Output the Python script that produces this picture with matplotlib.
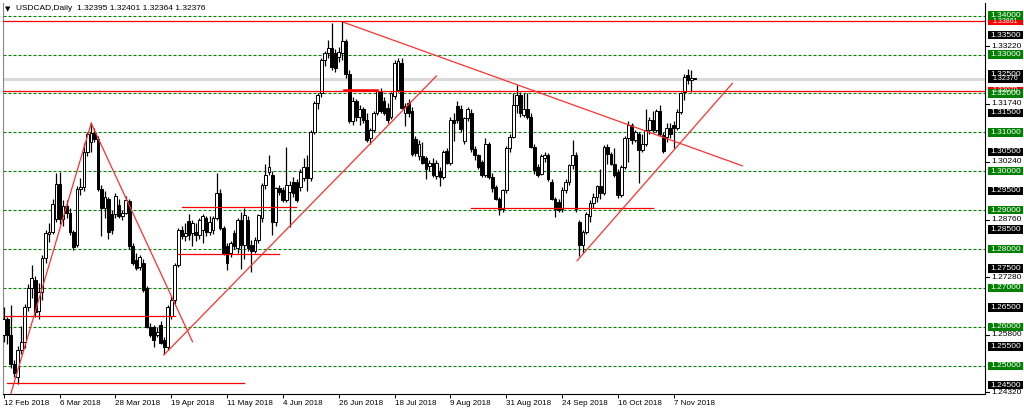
import matplotlib
matplotlib.use("Agg")
import matplotlib.pyplot as plt
from matplotlib.patches import Rectangle
from matplotlib.transforms import blended_transform_factory

# ---------------- data ----------------
header_text = "USDCAD,Daily  1.32395 1.32401 1.32364 1.32376"

opens = [
    1.2578, 1.2620, 1.2580, 1.2505, 1.2470, 1.2540, 1.2560, 1.2650, 1.2700, 1.2720,
    1.2640, 1.2690, 1.2777, 1.2838, 1.2845, 1.2877, 1.2967, 1.2877, 1.2911, 1.2894,
    1.2843, 1.2810, 1.2954, 1.2959, 1.3049, 1.3075, 1.3098, 1.3083, 1.2955, 1.2905,
    1.2930, 1.2890, 1.2890, 1.2914, 1.2884, 1.2893, 1.2923, 1.2807, 1.2773, 1.2755,
    1.2764, 1.2700, 1.2601, 1.2600, 1.2579, 1.2605, 1.2567, 1.2549, 1.2627, 1.2670,
    1.2760, 1.2850, 1.2833, 1.2871, 1.2841, 1.2845, 1.2837, 1.2850, 1.2880, 1.2845,
    1.2850, 1.2880, 1.2944, 1.2854, 1.2807, 1.2790, 1.2841, 1.2802, 1.2875, 1.2810,
    1.2875, 1.2810, 1.2795, 1.2823, 1.2879, 1.2965, 1.2999, 1.2990, 1.2870, 1.2956,
    1.2952, 1.2926, 1.2947, 1.2973, 1.2973, 1.2960, 1.2982, 1.3012, 1.2982, 1.3102,
    1.3175, 1.3200, 1.3286, 1.3303, 1.3316, 1.3303, 1.3295, 1.3304, 1.3334, 1.3249,
    1.3129, 1.3180, 1.3140, 1.3160, 1.3133, 1.3086, 1.3105, 1.3150, 1.3206, 1.3180,
    1.3163, 1.3140, 1.3193, 1.3210, 1.3279, 1.3150, 1.3176, 1.3155, 1.3082, 1.3039,
    1.3039, 1.3035, 1.3014, 1.3022, 1.2988, 1.3001, 1.2985, 1.3052, 1.3022, 1.3133,
    1.3168, 1.3159, 1.3078, 1.3138, 1.3150, 1.3058, 1.3041, 1.3024, 1.2990, 1.3070,
    1.2986, 1.2960, 1.2930, 1.2904, 1.2951, 1.3060, 1.3089, 1.3170, 1.3195, 1.3144,
    1.3161, 1.3140, 1.3063, 1.3011, 1.2994, 1.3033, 1.3041, 1.2973, 1.2930, 1.2922,
    1.2904, 1.2951, 1.2973, 1.3016, 1.3041, 1.2870, 1.2811, 1.2845, 1.2884, 1.2918,
    1.2935, 1.2961, 1.2945, 1.3063, 1.3045, 1.3020, 1.2999, 1.2940, 1.3010, 1.3085,
    1.3120, 1.3080, 1.3095, 1.3055, 1.3070, 1.3105, 1.3132, 1.3106, 1.3155, 1.3093,
    1.3089, 1.3110, 1.3120, 1.3110, 1.3153, 1.3204, 1.3247, 1.3234, 1.32395,
]
highs = [
    1.2652, 1.2625, 1.2655, 1.2515, 1.2550, 1.2603, 1.2660, 1.2710, 1.2758, 1.2730,
    1.2712, 1.2785, 1.2850, 1.2868, 1.2930, 1.2995, 1.2998, 1.2925, 1.2925, 1.2905,
    1.2850, 1.2962, 1.2984, 1.3074, 1.3100, 1.3125, 1.3110, 1.3090, 1.2965, 1.2950,
    1.2935, 1.2900, 1.2945, 1.2930, 1.2900, 1.2936, 1.2930, 1.2815, 1.2790, 1.2785,
    1.2775, 1.2705, 1.2610, 1.2605, 1.2600, 1.2615, 1.2575, 1.2655, 1.2680, 1.2765,
    1.2855, 1.2860, 1.2867, 1.2889, 1.2876, 1.2867, 1.2880, 1.2889, 1.2885, 1.2885,
    1.2885, 1.2996, 1.2955, 1.2860, 1.2815, 1.2820, 1.2850, 1.2880, 1.2896, 1.2905,
    1.2885, 1.2823, 1.2830, 1.2890, 1.2970, 1.3020, 1.3042, 1.3000, 1.2960, 1.2965,
    1.2960, 1.3063, 1.2975, 1.2985, 1.2980, 1.3005, 1.3033, 1.3042, 1.3105, 1.3180,
    1.3200, 1.3290, 1.3310, 1.3337, 1.3380, 1.3315, 1.3320, 1.3386, 1.3340, 1.3260,
    1.3190, 1.3185, 1.3170, 1.3165, 1.3150, 1.3110, 1.3155, 1.3210, 1.3215, 1.3190,
    1.3175, 1.3205, 1.3285, 1.3291, 1.3291, 1.3175, 1.3185, 1.3165, 1.3090, 1.3080,
    1.3075, 1.3040, 1.3030, 1.3035, 1.3030, 1.3010, 1.3055, 1.3060, 1.3140, 1.3150,
    1.3180, 1.3170, 1.3140, 1.3165, 1.3160, 1.3065, 1.3045, 1.3030, 1.3085, 1.3075,
    1.2995, 1.2965, 1.2935, 1.2955, 1.3065, 1.3097, 1.3200, 1.3222, 1.3205, 1.3200,
    1.3200, 1.3150, 1.3070, 1.3020, 1.3045, 1.3050, 1.3048, 1.2980, 1.2935, 1.2930,
    1.2960, 1.2980, 1.3020, 1.3080, 1.3050, 1.2875, 1.2850, 1.2895, 1.2925, 1.2945,
    1.2965, 1.3005, 1.3068, 1.3070, 1.3050, 1.3060, 1.3005, 1.3015, 1.3090, 1.3130,
    1.3125, 1.3105, 1.3100, 1.3095, 1.3160, 1.3140, 1.3155, 1.3160, 1.3170, 1.3100,
    1.3125, 1.3125, 1.3130, 1.3160, 1.3205, 1.3250, 1.3262, 1.3260, 1.32401,
]
lows = [
    1.2560, 1.2556, 1.2495, 1.2470, 1.2452, 1.2530, 1.2545, 1.2640, 1.2675, 1.2625,
    1.2620, 1.2670, 1.2765, 1.2818, 1.2840, 1.2870, 1.2865, 1.2860, 1.2880, 1.2835,
    1.2798, 1.2805, 1.2940, 1.2950, 1.3040, 1.3050, 1.3075, 1.2950, 1.2834, 1.2880,
    1.2826, 1.2840, 1.2880, 1.2880, 1.2875, 1.2890, 1.2800, 1.2760, 1.2745, 1.2745,
    1.2690, 1.2598, 1.2575, 1.2549, 1.2575, 1.2555, 1.2530, 1.2540, 1.2620, 1.2660,
    1.2755, 1.2825, 1.2820, 1.2824, 1.2807, 1.2820, 1.2825, 1.2815, 1.2833, 1.2835,
    1.2840, 1.2875, 1.2850, 1.2785, 1.2747, 1.2780, 1.2800, 1.2790, 1.2750, 1.2775,
    1.2795, 1.2742, 1.2790, 1.2815, 1.2870, 1.2955, 1.2990, 1.2836, 1.2860, 1.2940,
    1.2920, 1.2920, 1.2857, 1.2935, 1.2920, 1.2950, 1.2975, 1.2950, 1.2975, 1.3095,
    1.3160, 1.3190, 1.3270, 1.3290, 1.3260, 1.3255, 1.3280, 1.3285, 1.3240, 1.3125,
    1.3120, 1.3130, 1.3120, 1.3125, 1.3075, 1.3069, 1.3100, 1.3145, 1.3150, 1.3145,
    1.3125, 1.3135, 1.3185, 1.3205, 1.3160, 1.3116, 1.3140, 1.3040, 1.3040, 1.3030,
    1.3020, 1.2979, 1.3000, 1.2985, 1.2980, 1.2962, 1.2980, 1.3018, 1.3015, 1.3078,
    1.3125, 1.3100, 1.3070, 1.3130, 1.3050, 1.3030, 1.3005, 1.2985, 1.2985, 1.2980,
    1.2947, 1.2925, 1.2887, 1.2895, 1.2945, 1.3050, 1.3085, 1.3150, 1.3140, 1.3140,
    1.3135, 1.3060, 1.2994, 1.2985, 1.2990, 1.3025, 1.2975, 1.2925, 1.2883, 1.2895,
    1.2895, 1.2945, 1.2965, 1.3005, 1.2895, 1.2782, 1.2790, 1.2840, 1.2870, 1.2905,
    1.2920, 1.2930, 1.2940, 1.3020, 1.3015, 1.2985, 1.2931, 1.2935, 1.3005, 1.3025,
    1.3070, 1.3075, 1.2971, 1.3050, 1.3065, 1.3095, 1.3100, 1.3100, 1.3090, 1.3046,
    1.3075, 1.3085, 1.3059, 1.3105, 1.3148, 1.3183, 1.3225, 1.3204, 1.32364,
]
closes = [
    1.2620, 1.2580, 1.2505, 1.2482, 1.2540, 1.2560, 1.2650, 1.2700, 1.2725, 1.2638,
    1.2690, 1.2777, 1.2842, 1.2845, 1.2915, 1.2967, 1.2877, 1.2911, 1.2894, 1.2843,
    1.2806, 1.2954, 1.2959, 1.3049, 1.3096, 1.3098, 1.3083, 1.2955, 1.2905, 1.2933,
    1.2843, 1.2850, 1.2936, 1.2884, 1.2893, 1.2925, 1.2807, 1.2764, 1.2751, 1.2780,
    1.2695, 1.2601, 1.2578, 1.2567, 1.2588, 1.2558, 1.2549, 1.2652, 1.2670, 1.2760,
    1.2850, 1.2833, 1.2841, 1.2837, 1.2867, 1.2837, 1.2876, 1.2884, 1.2845, 1.2870,
    1.2880, 1.2944, 1.2854, 1.2790, 1.2764, 1.2815, 1.2807, 1.2875, 1.2810, 1.2887,
    1.2802, 1.2795, 1.2823, 1.2887, 1.2965, 1.2990, 1.3012, 1.2870, 1.2956, 1.2947,
    1.2926, 1.2965, 1.2965, 1.2943, 1.2926, 1.2999, 1.3012, 1.2982, 1.3102, 1.3175,
    1.3196, 1.3286, 1.3303, 1.3316, 1.3269, 1.3265, 1.3307, 1.3334, 1.3249, 1.3129,
    1.3180, 1.3140, 1.3160, 1.3133, 1.3080, 1.3105, 1.3150, 1.3206, 1.3155, 1.3150,
    1.3133, 1.3200, 1.3279, 1.3283, 1.3163, 1.3168, 1.3150, 1.3044, 1.3048, 1.3069,
    1.3022, 1.3005, 1.3022, 1.2990, 1.3022, 1.2985, 1.3050, 1.3022, 1.3133, 1.3125,
    1.3133, 1.3108, 1.3138, 1.3159, 1.3058, 1.3041, 1.3011, 1.2990, 1.3070, 1.2986,
    1.2956, 1.2930, 1.2904, 1.2951, 1.3060, 1.3089, 1.3170, 1.3195, 1.3150, 1.3161,
    1.3140, 1.3063, 1.3003, 1.2990, 1.3040, 1.3041, 1.2980, 1.2930, 1.2904, 1.2900,
    1.2951, 1.2973, 1.3016, 1.3041, 1.2904, 1.2811, 1.2845, 1.2890, 1.2918, 1.2935,
    1.2961, 1.2945, 1.3063, 1.3045, 1.3020, 1.2990, 1.2940, 1.3010, 1.3085, 1.3120,
    1.3080, 1.3100, 1.3055, 1.3070, 1.3105, 1.3132, 1.3106, 1.3155, 1.3095, 1.3052,
    1.3110, 1.3095, 1.3110, 1.3153, 1.3200, 1.3243, 1.3234, 1.3240, 1.32376,
]

date_positions = [0, 16, 32, 48, 64, 80, 96, 112, 128, 144, 160, 176, 192]
date_labels = ["12 Feb 2018", "6 Mar 2018", "28 Mar 2018", "19 Apr 2018",
               "11 May 2018", "4 Jun 2018", "26 Jun 2018", "18 Jul 2018",
               "9 Aug 2018", "31 Aug 2018", "24 Sep 2018", "16 Oct 2018",
               "7 Nov 2018"]

green_levels = [1.34, 1.33, 1.32, 1.31, 1.30, 1.29, 1.28, 1.27, 1.26, 1.25]
black_levels = [1.335, 1.325, 1.315, 1.305, 1.295, 1.285, 1.275, 1.265, 1.255, 1.245]
scale_ticks = [1.3322, 1.3174, 1.3024, 1.2876, 1.2728, 1.2580, 1.2432]
red_levels = [1.33861, 1.3207]
current_price = 1.32376

# horizontal red segments: (start bar, end bar, price)
red_segments = [
    (0.3, 49.0, 1.2628),
    (0.9, 68.8, 1.2455),
    (51.0, 83.7, 1.2909),
    (49.9, 78.8, 1.2788),
    (133.8, 186.0, 1.2906),
]
thick_red_segment = (97.5, 107.0, 1.3209)
# trend lines: (bar0, price0, bar1, price1)
trend_lines = [
    (2.0, 1.2427, 25.1, 1.3124),
    (25.1, 1.3123, 54.1, 1.2562),
    (45.9, 1.2528, 124.0, 1.3245),
    (97.4, 1.3383, 211.7, 1.3014),
    (164.3, 1.2770, 208.8, 1.3226),
]

# ---------------- figure ----------------
W, H = 1024, 413
fig = plt.figure(figsize=(W / 100, H / 100), dpi=100)
fig.patch.set_facecolor("white")
AX_L, AX_R, AX_T, AX_B = 3, 985, 3, 394
ax = fig.add_axes([AX_L / W, 1 - AX_B / H, (AX_R - AX_L) / W, (AX_B - AX_T) / H])
ax.set_facecolor("white")
ax.set_xlim(-0.2, 281.2)
ax.set_ylim(1.24275, 1.34326)

FONT = ["Liberation Sans", "DejaVu Sans"]

# grid levels
for lv in green_levels:
    ax.axhline(lv, color="#008000", lw=0.8, dashes=(2.7, 1.8), zorder=1)
ax.axhline(current_price, color="#D9D9D9", lw=2.2, zorder=0.5)

# candles
n = len(closes)
xs = list(range(n))
ax.vlines(xs, lows, highs, color="black", lw=0.9, zorder=3)
bx, bb, bh = [], [], []
rx, rb, rh = [], [], []
for i in xs:
    o, c = opens[i], closes[i]
    if c >= o:
        bx.append(i); bb.append(o); bh.append(c - o)
    else:
        rx.append(i); rb.append(c); rh.append(o - c)
ax.bar(bx, bh, bottom=bb, width=0.8, facecolor="white", edgecolor="black",
       linewidth=0.7, zorder=4)
ax.bar(rx, rh, bottom=rb, width=0.8, facecolor="black", edgecolor="black",
       linewidth=0.7, zorder=4)

# red objects
for lv in red_levels:
    ax.axhline(lv, color="#FF0000", lw=0.9, zorder=5)
for a, b, p in red_segments:
    ax.plot([a, b], [p, p], color="#FF0000", lw=0.9, zorder=5)
a, b, p = thick_red_segment
ax.plot([a, b], [p, p], color="#FF0000", lw=1.8, zorder=5)
for a0, p0, a1, p1 in trend_lines:
    ax.plot([a0, a1], [p0, p1], color="#FF3030", lw=0.9, zorder=5)

# spines / ticks
ax.spines["top"].set_visible(False)
for s in ("left", "right", "bottom"):
    ax.spines[s].set_color("black")
    ax.spines[s].set_linewidth(0.8)
ax.spines["left"].set_color("#888888")
ax.set_yticks([])
ax.set_xticks(date_positions)
ax.set_xticklabels(date_labels, ha="left", fontsize=5.8, family=FONT)
ax.tick_params(axis="x", direction="out", length=3, width=0.7, pad=1.5)

# right price labels
trans = blended_transform_factory(ax.transAxes, ax.transData)
px_per_price = (AX_B - AX_T) / (1.34326 - 1.24275)
half_h = 4.2 / px_per_price


def fx(px):
    return (px - AX_L) / (AX_R - AX_L)


def box_label(level, color, size=6.0):
    ax.add_patch(Rectangle((fx(988), level - half_h), fx(1023) - fx(988), 2 * half_h,
                           transform=trans, clip_on=False, facecolor=color,
                           edgecolor="none", zorder=10))
    ax.text(fx(1005.5), level, f"{level:.5f}", transform=trans,
            ha="center", va="center", color="white", fontsize=size, family=FONT,
            clip_on=False, zorder=11)


# labels that sit partly under others (as in the reference) are drawn first
for lv in red_levels:
    box_label(lv, "#FF0000", size=5.0)
box_label(current_price, "#000000", size=5.0)
for lv in black_levels:
    box_label(lv, "#000000")
for lv in green_levels:
    box_label(lv, "#008000")
for lv in scale_ticks:
    ax.plot([fx(985), fx(989)], [lv, lv], color="black", lw=0.8,
            transform=trans, clip_on=False)
    ax.text(fx(991), lv, f"{lv:.5f}", transform=trans, ha="left", va="center",
            color="black", fontsize=6.0, family=FONT, clip_on=False)

# header
fig.text(5 / W, 1 - 9 / H, "\u25bc", fontsize=5, va="center", ha="left",
         family=["DejaVu Sans"])
fig.text(16 / W, 1 - 9 / H, header_text, fontsize=6.0, va="center", ha="left",
         family=FONT)

fig.savefig("out.png", dpi=100, facecolor="white")
